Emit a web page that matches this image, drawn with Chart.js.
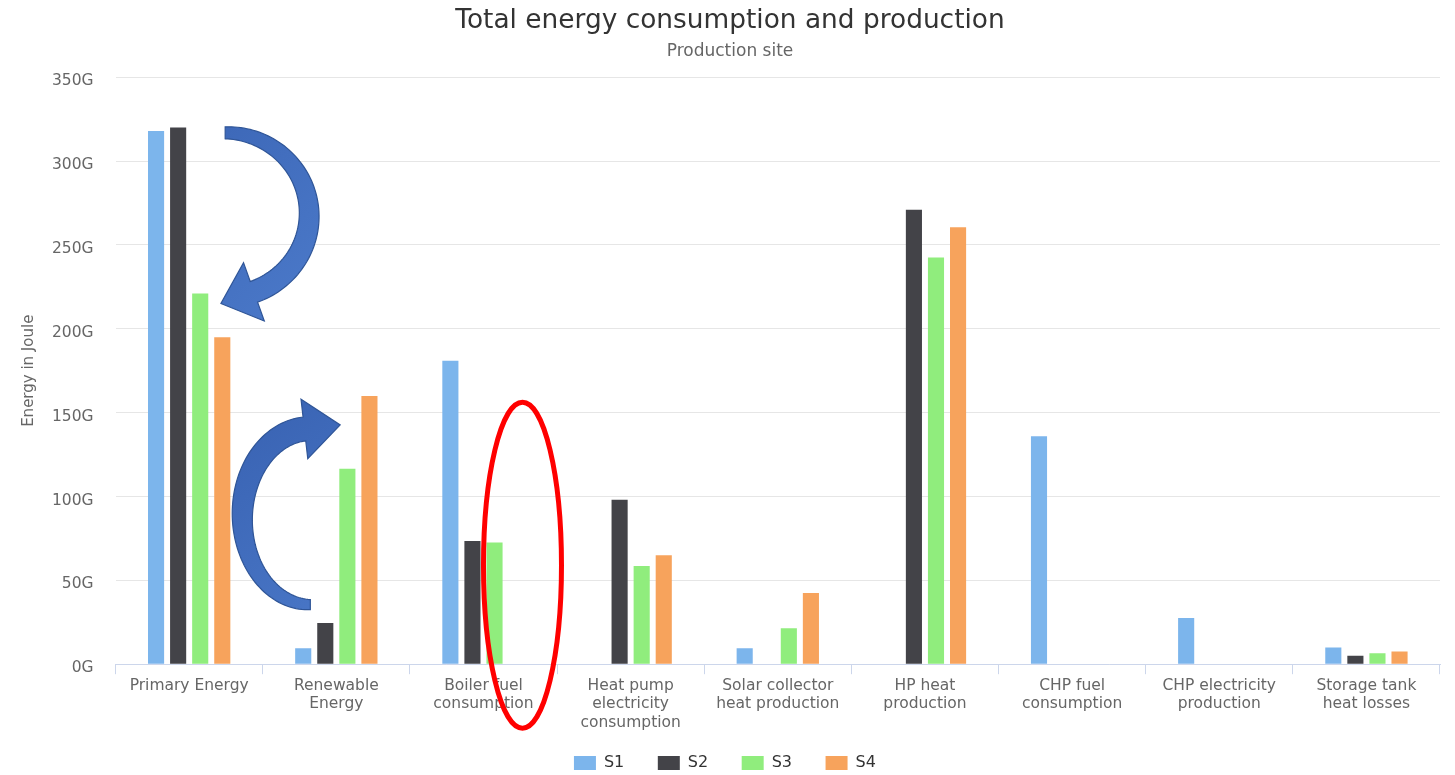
<!DOCTYPE html>
<html>
<head>
<meta charset="utf-8">
<script src="https://cdn.jsdelivr.net/npm/chart.js@4/dist/chart.umd.min.js"></script>
<style>
    html, body { margin: 0; padding: 0; background: #fff; }
    #wrap { width: 1455px; height: 775px; position: relative; }
</style>
</head>
<body>
<div id="wrap"><canvas id="energy-chart"></canvas></div>
<script>
// categories (x axis), multi-line labels
const categories = [
    ["Primary Energy"],
    ["Renewable", "Energy"],
    ["Boiler fuel", "consumption"],
    ["Heat pump", "electricity", "consumption"],
    ["Solar collector", "heat production"],
    ["HP heat", "production"],
    ["CHP fuel", "consumption"],
    ["CHP electricity", "production"],
    ["Storage tank", "heat losses"]
];

// values in G(iga) Joule
const s1 = [318, 9.5, 181, null, 9.5, null, 136, 27.5, 10];
const s2 = [320, 24.5, 73.5, 98, null, 271, null, null, 5];
const s3 = [221, 116.5, 72.5, 58.5, 21.5, 242.5, null, null, 6.5];
const s4 = [195, 160, null, 65, 42.5, 260.5, null, null, 7.5];

const seriesNames = ["S1", "S2", "S3", "S4"];
const seriesColors = ["#7cb5ec", "#434348", "#90ed7d", "#f7a35c"];

const yTicks = [0, 50, 100, 150, 200, 250, 300, 350];

const FONT = "'DejaVu Sans', 'Liberation Sans', sans-serif";

// draws a curved block arrow along an ellipse arc
function curvedArrow(ctx, o) {
    const n = 80;
    const left = [], right = [];
    const dir = o.a1 > o.a0 ? 1 : -1;
    let endPt, endT;
    for (let i = 0; i <= n; i++) {
        const t = i / n;
        const a = o.a0 + (o.a1 - o.a0) * t;
        const w = o.w0 + (o.w1 - o.w0) * Math.sin(t * Math.PI / 2);
        const px = o.cx + o.rx * Math.cos(a);
        const py = o.cy + o.ry * Math.sin(a);
        let dx = -o.rx * Math.sin(a) * dir, dy = o.ry * Math.cos(a) * dir;
        const len = Math.hypot(dx, dy);
        dx /= len; dy /= len;
        const nx = -dy, ny = dx;
        left.push([px + nx * w / 2, py + ny * w / 2]);
        right.push([px - nx * w / 2, py - ny * w / 2]);
        if (i === n) { endPt = [px, py]; endT = [dx, dy]; }
    }
    const nx = -endT[1], ny = endT[0];
    ctx.beginPath();
    ctx.moveTo(left[0][0], left[0][1]);
    left.forEach(p => ctx.lineTo(p[0], p[1]));
    ctx.lineTo(endPt[0] + nx * o.headW / 2, endPt[1] + ny * o.headW / 2);
    ctx.lineTo(endPt[0] + endT[0] * o.headLen, endPt[1] + endT[1] * o.headLen);
    ctx.lineTo(endPt[0] - nx * o.headW / 2, endPt[1] - ny * o.headW / 2);
    for (let i = right.length - 1; i >= 0; i--) ctx.lineTo(right[i][0], right[i][1]);
    ctx.closePath();
    const g = ctx.createLinearGradient(o.cx - o.rx, o.cy - o.ry, o.cx + o.rx, o.cy + o.ry);
    g.addColorStop(0, "#3a64b4");
    g.addColorStop(1, "#4a78c8");
    ctx.fillStyle = g;
    ctx.fill();
    ctx.strokeStyle = "#2f5597";
    ctx.lineWidth = 1.2;
    ctx.stroke();
}

// annotation overlay: the two blue arrows and the red ellipse
const annotations = {
    id: "annotations",
    afterDraw(chart) {
        const ctx = chart.ctx;
        const xs = chart.scales.x, ys = chart.scales.y;
        const d = Math.PI / 180;
        ctx.save();
        curvedArrow(ctx, {
            cx: xs.getPixelForValue(0) + 36, cy: ys.getPixelForValue(268),
            rx: 84, ry: 82, a0: -90 * d, a1: 70 * d,
            w0: 12, w1: 22, headLen: 35, headW: 62
        });
        curvedArrow(ctx, {
            cx: xs.getPixelForValue(1) - 26, cy: ys.getPixelForValue(88),
            rx: 68, ry: 88, a0: 90 * d, a1: 265 * d,
            w0: 10, w1: 24, headLen: 36, headW: 60
        });
        ctx.beginPath();
        ctx.ellipse(xs.getPixelForValue(2) + 39, ys.getPixelForValue(59), 39, 163, 0, 0, Math.PI * 2);
        ctx.strokeStyle = "#ff0000";
        ctx.lineWidth = 5;
        ctx.stroke();
        ctx.restore();
    }
};

const whiteBg = {
    id: "whiteBg",
    beforeDraw(chart) {
        const ctx = chart.ctx;
        ctx.save();
        ctx.fillStyle = "#fff";
        ctx.fillRect(0, 0, chart.width, chart.height);
        ctx.restore();
    }
};

const allSeries = [s1, s2, s3, s4];

new Chart(document.getElementById("energy-chart").getContext("2d"), {
    type: "bar",
    data: {
        labels: categories,
        datasets: allSeries.map((vals, i) => ({
            label: seriesNames[i],
            data: vals,
            backgroundColor: seriesColors[i],
            borderWidth: 0,
            categoryPercentage: 0.6,
            barPercentage: 0.73
        }))
    },
    options: {
        responsive: true,
        maintainAspectRatio: false,
        animation: false,
        layout: { padding: { left: 20, right: 15, top: 0, bottom: -6 } },
        plugins: {
            title: {
                display: true,
                text: "Total energy consumption and production",
                color: "#333333",
                font: { family: FONT, size: 26.4, weight: "normal" },
                padding: { top: 5, bottom: 2 }
            },
            subtitle: {
                display: true,
                text: "Production site",
                color: "#666666",
                font: { family: FONT, size: 17, weight: "normal" },
                padding: { top: 2.4, bottom: 15.8 }
            },
            legend: {
                position: "bottom",
                labels: {
                    boxWidth: 22,
                    boxHeight: 14,
                    padding: 10,
                    color: "#333333",
                    font: { family: FONT, size: 16 },
                    // trailing spaces widen each item like the wide legend spacing
                    generateLabels: chart => {
                        const items = Chart.defaults.plugins.legend.labels.generateLabels(chart);
                        return items.map((item, i) => ({
                            ...item,
                            text: item.text + (i < items.length - 1 ? "    \u2009" : "  ")
                        }));
                    }
                }
            },
            tooltip: { enabled: false }
        },
        scales: {
            x: {
                grid: {
                    drawOnChartArea: false,
                    color: "#ccd6eb",
                    tickLength: 10,
                    offset: true
                },
                border: { color: "#ccd6eb", width: 1 },
                ticks: {
                    color: "#666666",
                    font: { family: FONT, size: 15.5 },
                    maxRotation: 0,
                    autoSkip: false,
                    padding: 2
                },
                afterFit(axis) { axis.height += 11; }
            },
            y: {
                min: 0,
                max: 350,
                afterBuildTicks(axis) {
                    axis.ticks = yTicks.map(v => ({ value: v }));
                },
                afterFit(axis) { axis.width -= 8; },
                grid: { color: "#e6e6e6", drawTicks: false },
                border: { display: false },
                ticks: {
                    color: "#666666",
                    font: { family: FONT, size: 15.5 },
                    padding: 22,
                    labelOffset: 4,
                    callback: v => v + "G"
                },
                title: {
                    display: true,
                    text: "Energy in Joule",
                    color: "#666666",
                    font: { family: FONT, size: 15 },
                    padding: { top: 0, bottom: 0 }
                }
            }
        }
    },
    plugins: [whiteBg, annotations]
});
</script>
</body>
</html>
